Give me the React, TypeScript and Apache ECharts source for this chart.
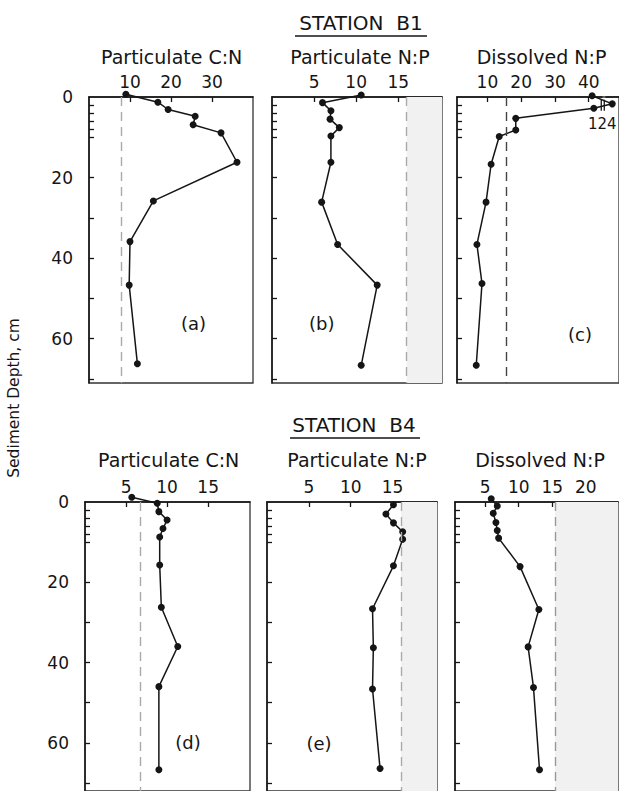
import React, { useEffect, useRef } from 'react';
import * as echarts from 'echarts';

const FONT = 'DejaVu Sans';

// ---------- Station B1 ----------
const depthA = [-0.7, 1.3, 3.1, 4.8, 6.9, 8.9, 16.2, 25.8, 35.9, 46.7, 66.2];
const partCN_B1 = [9.0, 16.8, 19.3, 25.9, 25.4, 32.2, 36.1, 15.7, 10.0, 9.8, 11.8];

const depthB = [-0.5, 1.4, 3.4, 5.5, 7.6, 9.7, 16.2, 26.1, 36.6, 46.7, 66.6];
const partNP_B1 = [10.6, 6.0, 7.0, 6.9, 8.0, 7.0, 7.0, 5.9, 7.8, 12.5, 10.6];

const depthC = [-0.3, 1.7, 2.8, 5.3, 8.2, 9.8, 16.7, 26.1, 36.6, 46.3, 66.6];
const dissNP_B1 = [41, 124, 41.5, 18.4, 18.4, 13.5, 11.1, 9.6, 6.9, 8.4, 6.7];

// ---------- Station B4 ----------
const depthD = [-1.2, 0.3, 2.4, 4.5, 6.6, 8.7, 15.7, 26.2, 36.0, 46.0, 66.7];
const partCN_B4 = [5.7, 8.8, 9.0, 10.0, 9.5, 9.1, 9.1, 9.3, 11.3, 9.0, 9.0];

const depthE = [0.7, 3.0, 5.2, 7.4, 9.3, 15.9, 26.6, 36.3, 46.6, 66.4];
const partNP_B4 = [15.1, 14.2, 15.1, 16.2, 16.2, 15.1, 12.6, 12.7, 12.6, 13.5];

const depthF = [-0.8, 1.0, 2.8, 5.1, 7.1, 9.0, 16.1, 26.8, 36.1, 46.2, 66.7];
const dissNP_B4 = [5.9, 6.8, 6.2, 6.6, 6.8, 7.0, 10.2, 13.0, 11.4, 12.2, 13.1];

// reference (Redfield) ratio lines
const refLines = [7.8, 16, 15.7, 6.7, 16, 15.4];

// tick labels
const xTicksA = [10, 20, 30];
const xTicksB = [5, 10, 15];
const xTicksC = [10, 20, 30, 40];
const xTicksD = [5, 10, 15];
const xTicksE = [5, 10, 15];
const xTicksF = [5, 10, 15, 20];
const yLabels = [0, 20, 40, 60];
const yTicks = [2, 4, 6, 8, 10, 20, 30, 40, 50, 60, 70];

const panelTitles = ['Particulate C:N', 'Particulate N:P', 'Dissolved N:P', 'Particulate C:N', 'Particulate N:P', 'Dissolved N:P'];
const panelLetters = ['(a)', '(b)', '(c)', '(d)', '(e)', '(f)'];
const stationTitles = ['STATION  B1', 'STATION  B4'];
const yTitle = 'Sediment Depth, cm';

export default function App() {
  const ref = useRef<HTMLDivElement>(null);
  useEffect(() => {
    if (!ref.current) return;
    const chart = echarts.init(ref.current, null, { renderer: 'svg' });

    const panels = [
      { left: 89, top: 97, width: 164, height: 286, xMin: 0, xMax: 40, yMax: 71, ticks: xTicksA, depth: depthA, vals: partCN_B1, shade: false, refColor: '#aaa', yLab: true, title: [171.7, 57], letter: [193.5, 323] },
      { left: 272, top: 97, width: 170, height: 286, xMin: 0, xMax: 20.2, yMax: 71, ticks: xTicksB, depth: depthB, vals: partNP_B1, shade: true, refColor: '#aaa', yLab: false, title: [360, 57], letter: [321.7, 323] },
      { left: 457, top: 97, width: 162, height: 286, xMin: 1, xMax: 126, yMax: 71, ticks: xTicksC, depth: depthC, vals: dissNP_B1, shade: false, refColor: '#444', yLab: false, title: [541.5, 57], letter: [580, 334], breaks: [{ start: 44, end: 122, gap: '2%' }] },
      { left: 85, top: 502, width: 165, height: 290, xMin: 0, xMax: 20.1, yMax: 72, ticks: xTicksD, depth: depthD, vals: partCN_B4, shade: false, refColor: '#aaa', yLab: true, title: [168.7, 460], letter: [188, 742.5] },
      { left: 267, top: 502, width: 170, height: 290, xMin: 0, xMax: 20.3, yMax: 72, ticks: xTicksE, depth: depthE, vals: partNP_B4, shade: true, refColor: '#aaa', yLab: false, title: [357, 460], letter: [319, 743.5] },
      { left: 455, top: 502, width: 163, height: 290, xMin: 0.5, xMax: 24.8, yMax: 72, ticks: xTicksF, depth: depthF, vals: dissNP_B4, shade: true, refColor: '#999', yLab: false, title: [540, 460], letter: [577, 745] },
    ];

    const ink = '#151515';

    const grid = panels.map((p) => ({
      left: p.left, top: p.top, width: p.width, height: p.height,
      show: true, borderColor: '#333', borderWidth: 1.3, backgroundColor: 'transparent',
      containLabel: false,
    }));

    const xAxis = panels.map((p, i) => {
      const ax: any = {
        type: 'value', gridIndex: i, position: 'top', min: p.xMin, max: p.xMax,
        axisLine: { show: true, onZero: false, lineStyle: { color: ink, width: 1.5 } },
        axisTick: { show: true, inside: true, length: 5, customValues: p.ticks, lineStyle: { color: ink, width: 1.3 } },
        axisLabel: { show: true, customValues: p.ticks, fontFamily: FONT, fontSize: 17, color: ink, margin: 7 },
        splitLine: { show: false },
      };
      if ((p as any).breaks) {
        ax.breaks = (p as any).breaks;
        ax.breakArea = { show: false };
      }
      return ax;
    });

    const yAxis = panels.map((p, i) => ({
      type: 'value', gridIndex: i, inverse: true, min: 0, max: p.yMax,
      axisLine: { show: true, onZero: false, lineStyle: { color: ink, width: 1.5 } },
      axisTick: { show: true, inside: true, length: 5, customValues: yTicks, lineStyle: { color: ink, width: 1.3 } },
      axisLabel: { show: p.yLab, customValues: yLabels, fontFamily: FONT, fontSize: 17, color: ink, margin: 16 },
      splitLine: { show: false },
    }));

    const series = panels.map((p, i) => ({
      type: 'line', xAxisIndex: i, yAxisIndex: i, clip: false,
      symbol: 'circle', symbolSize: 7, showSymbol: true,
      itemStyle: { color: ink },
      lineStyle: { color: ink, width: 1.5 },
      data: p.vals.map((v, j) => {
        const item: any = { value: [v, p.depth[j]] };
        if (v > 100) {
          item.label = { show: true, formatter: String(v), position: 'bottom', distance: 9, offset: [-10, 0], fontFamily: FONT, fontSize: 15, color: ink };
        }
        return item;
      }),
      markLine: {
        silent: true, symbol: 'none', label: { show: false },
        lineStyle: { color: p.refColor, type: [9, 6], width: 1.4 },
        data: [{ xAxis: refLines[i] }],
      },
      markArea: p.shade ? {
        silent: true,
        itemStyle: { color: '#f1f1f1' },
        data: [[{ xAxis: refLines[i] }, { xAxis: p.xMax }]],
      } : undefined,
      z: 3,
    }));

    const text = (t: string, x: number, y: number, size: number, extra: any = {}) => ({
      type: 'text', x, y, silent: true,
      style: { text: t, fontFamily: FONT, fontSize: size, fill: ink, align: 'center', verticalAlign: 'middle' },
      ...extra,
    });

    const graphic: any[] = [];
    graphic.push(text(stationTitles[0], 361, 23, 20));
    graphic.push({ type: 'line', shape: { x1: 295, y1: 36, x2: 427, y2: 36 }, style: { stroke: ink, lineWidth: 1.5 } });
    graphic.push(text(stationTitles[1], 354, 425, 20));
    graphic.push({ type: 'line', shape: { x1: 290, y1: 438, x2: 420, y2: 438 }, style: { stroke: ink, lineWidth: 1.5 } });
    panels.forEach((p, i) => {
      graphic.push(text(panelTitles[i], p.title[0], p.title[1], 19));
      graphic.push(text(panelLetters[i], p.letter[0], p.letter[1], 18));
    });
    graphic.push(text(yTitle, 14, 398, 15.5, { rotation: Math.PI / 2 }));

    chart.setOption({
      animation: false,
      backgroundColor: '#fff',
      grid, xAxis, yAxis, series, graphic,
    });

    // small axis-break mark on the broken line of panel (c)
    const bp = chart.convertToPixel({ xAxisIndex: 2, yAxisIndex: 2 } as any, [44.5, 2.2]) as any;
    if (bp && isFinite(bp[0])) {
      chart.setOption({
        graphic: [
          ...graphic,
          { type: 'line', shape: { x1: bp[0] - 1, y1: bp[1] - 6, x2: bp[0] - 1, y2: bp[1] + 5 }, style: { stroke: ink, lineWidth: 1.3 } },
          { type: 'line', shape: { x1: bp[0] + 2, y1: bp[1] - 6, x2: bp[0] + 2, y2: bp[1] + 5 }, style: { stroke: ink, lineWidth: 1.3 } },
        ],
      });
    }

    return () => chart.dispose();
  }, []);
  return <div ref={ref} style={{ position: 'fixed', left: 0, top: 0, width: 619, height: 791 }} />;
}
